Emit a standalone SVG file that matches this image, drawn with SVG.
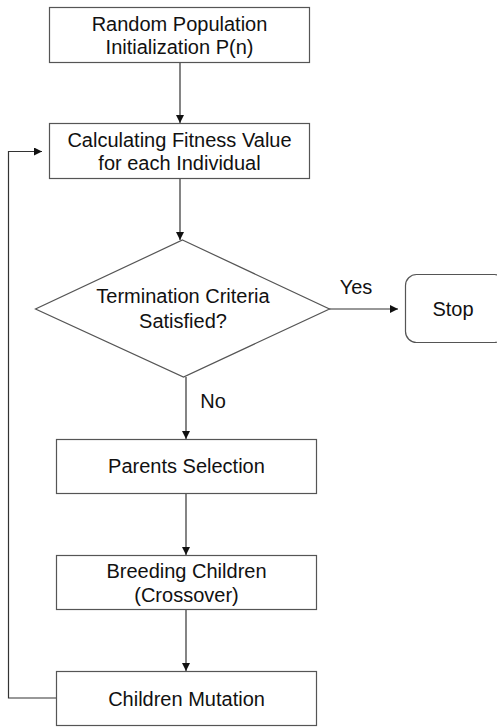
<svg xmlns="http://www.w3.org/2000/svg" width="497" height="727" viewBox="0 0 497 727">
<style>
.box{fill:#fff;stroke:#555;stroke-width:1.2}
.t{font-family:"Liberation Sans",Arial,sans-serif;font-size:20px;fill:#111;text-anchor:middle}
.c{fill:none;stroke:#333;stroke-width:1.2}
</style>
<defs>
<marker id="ah" viewBox="0 0 10 10" refX="10" refY="5" markerWidth="8" markerHeight="8" markerUnits="userSpaceOnUse" orient="auto">
<path d="M0,0 L10,5 L0,10 z" fill="#111"/>
</marker>
</defs>
<rect width="497" height="727" fill="#fff"/>
<g id="connectors">
<line class="c" x1="180" y1="62" x2="180" y2="123" marker-end="url(#ah)"/>
<line class="c" x1="180" y1="178" x2="180" y2="240" marker-end="url(#ah)"/>
<line class="c" x1="329" y1="309" x2="398" y2="309" marker-end="url(#ah)"/>
<line class="c" x1="186" y1="377" x2="186" y2="439" marker-end="url(#ah)"/>
<line class="c" x1="186" y1="493" x2="186" y2="555" marker-end="url(#ah)"/>
<line class="c" x1="186" y1="609" x2="186" y2="671" marker-end="url(#ah)"/>
<polyline class="c" points="56.5,698 8.5,698 8.5,151.5 42,151.5" marker-end="url(#ah)"/>
<text class="t" x="356" y="294">Yes</text>
<text class="t" x="213" y="408">No</text>
</g>
<g id="init">
<rect class="box" x="49.5" y="7.5" width="260" height="55"/>
<text class="t" x="179.5" y="31">Random Population</text>
<text class="t" x="179.5" y="54">Initialization P(n)</text>
</g>
<g id="fitness">
<rect class="box" x="49.5" y="123.5" width="260" height="55"/>
<text class="t" x="179.5" y="147">Calculating Fitness Value</text>
<text class="t" x="179.5" y="170">for each Individual</text>
</g>
<g id="termination">
<polygon class="box" points="182.5,240 329.5,309 183.5,377 35.5,309"/>
<text class="t" x="183" y="303">Termination Criteria</text>
<text class="t" x="183" y="328">Satisfied?</text>
</g>
<g id="stop">
<rect class="box" x="405.5" y="274.5" width="100" height="68" rx="11" ry="11"/>
<text class="t" x="453" y="316">Stop</text>
</g>
<g id="selection">
<rect class="box" x="56.5" y="439.5" width="260" height="54"/>
<text class="t" x="186.5" y="473">Parents Selection</text>
</g>
<g id="breeding">
<rect class="box" x="56.5" y="555.5" width="260" height="54"/>
<text class="t" x="186.5" y="578">Breeding Children</text>
<text class="t" x="186.5" y="602">(Crossover)</text>
</g>
<g id="mutation">
<rect class="box" x="56.5" y="671.5" width="260" height="54"/>
<text class="t" x="186.5" y="706">Children Mutation</text>
</g>
</svg>
